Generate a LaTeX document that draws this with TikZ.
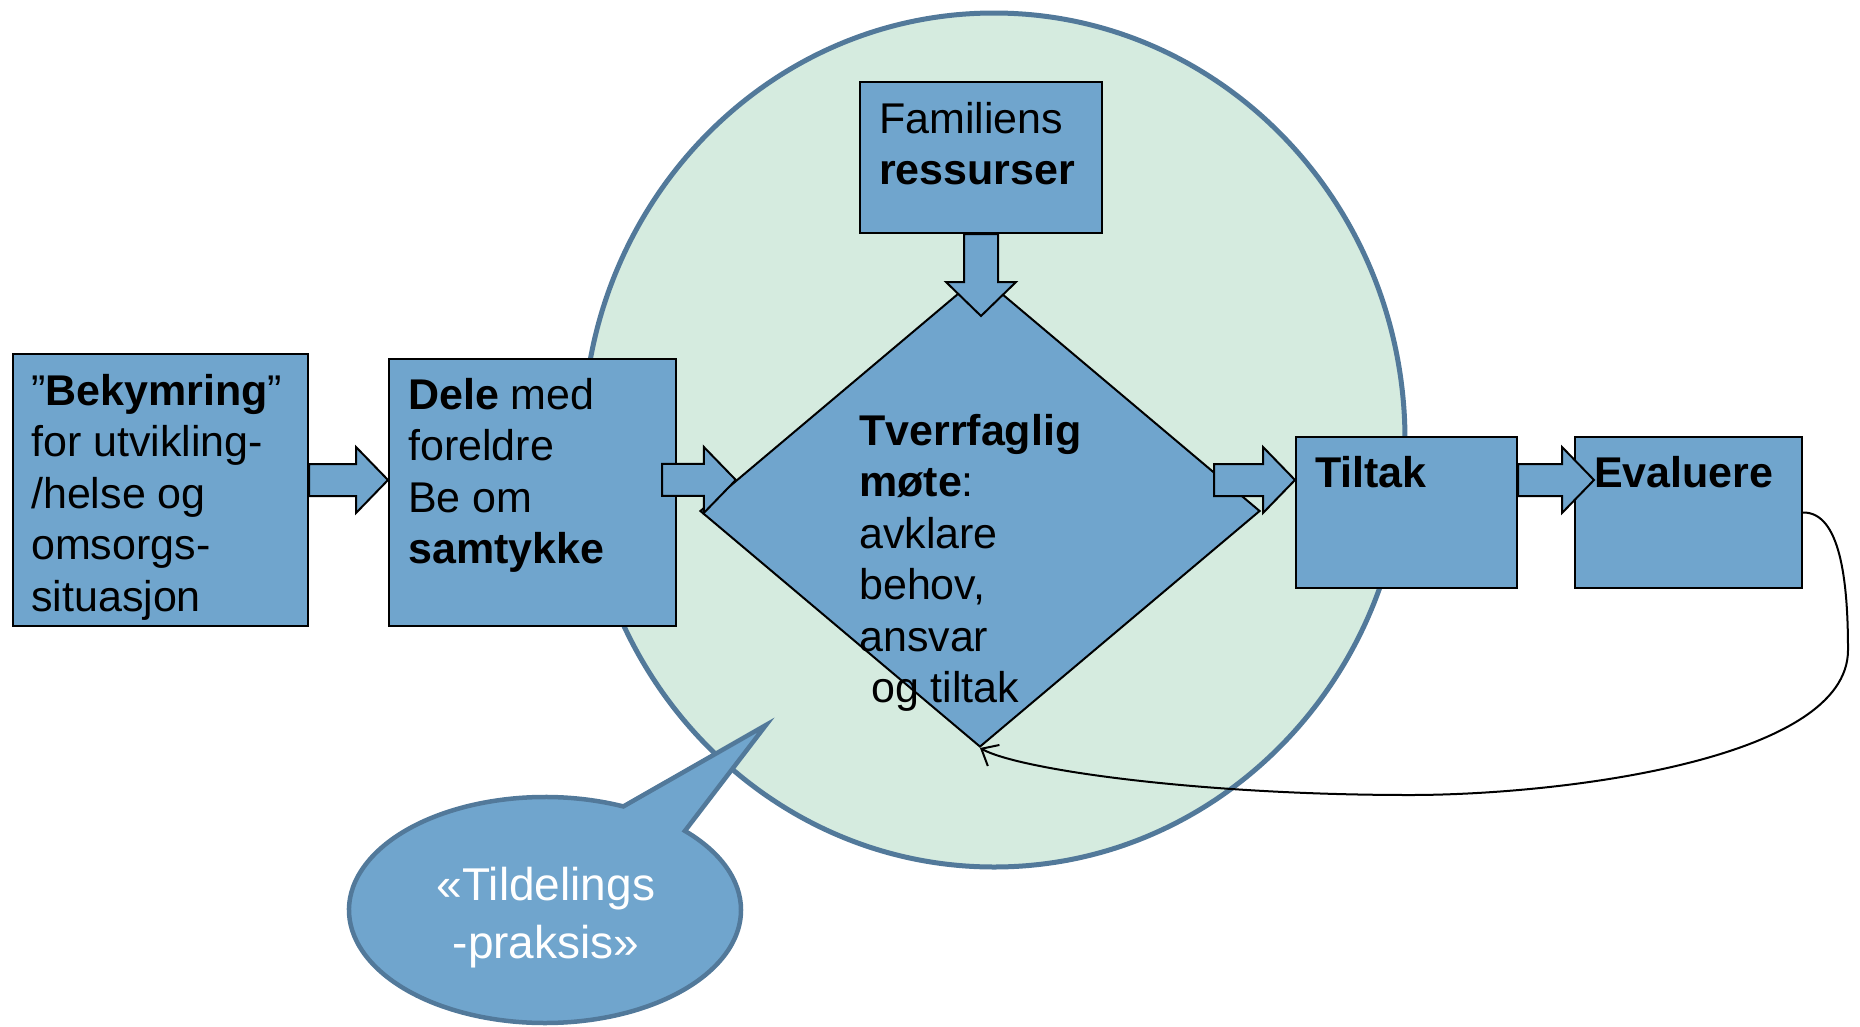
\documentclass[tikz,border=0pt]{standalone}
\usepackage{fontspec}
\setmainfont{Liberation Sans}
\usetikzlibrary{shapes.geometric,shapes.callouts,calc,arrows.meta}
\definecolor{boxblue}{HTML}{70A5CD}
\definecolor{ringfill}{HTML}{D5EBDF}
\definecolor{ringline}{HTML}{52799A}
\tikzset{
  box/.style={rectangle,draw=black,line width=2pt,fill=boxblue,anchor=north west,inner sep=0pt},
  txt/.style={anchor=north west,inner sep=0pt,align=left,font=\fontsize{43}{51.5}\selectfont},
  barrow/.style={draw=black,line width=2pt,fill=boxblue,line join=miter},
}
% block arrow: #1 start of the shaft, #2 tip (shaft is horizontal at the tip's height)
\newcommand{\blockarrow}[2]{%
  \draw[barrow] let \p1=(#1), \p2=(#2) in
    (\x1,\y2+16pt)--(\x2-32pt,\y2+16pt)--(\x2-32pt,\y2+33pt)--(\x2,\y2)
    --(\x2-32pt,\y2-33pt)--(\x2-32pt,\y2-16pt)--(\x1,\y2-16pt)--cycle;}
\begin{document}
\begin{tikzpicture}[x=1pt,y=-1pt]
\useasboundingbox (0,0) rectangle (1860,1026);
\node[ellipse,draw=ringline,line width=5pt,fill=ringfill,inner sep=0pt,
  minimum width=822pt,minimum height=854pt] (ring) at (994,440) {};
\coordinate (arrowline) at (0,480);
\coordinate (pointer) at (766,725);

% boxes
\node[box,minimum width=295pt,minimum height=272pt] (bekymring) at (12,353) {};
\node[txt] (bekymring-t) at ([shift={(19,21)}]bekymring.north west)
  {”\textbf{Bekymring}”\\for utvikling-\\/helse og\\omsorgs-\\situasjon};
\node[box,minimum width=287pt,minimum height=267pt] (dele) at (388,358) {};
\node[txt] (dele-t) at ([shift={(20,20)}]dele.north west)
  {\textbf{Dele} med\\foreldre\\Be om\\\textbf{samtykke}};
\node[box,minimum width=242pt,minimum height=151pt] (familiens) at (859,81) {};
\node[txt] (familiens-t) at ([shift={(20,21)}]familiens.north west)
  {Familiens\\\textbf{ressurser}};
\node[diamond,draw=black,line width=2pt,fill=boxblue,inner sep=0pt,
  minimum width=560pt,minimum height=472pt] (moete) at (980,511) {};
\node[txt] (moete-t) at (859,414)
  {\textbf{Tverrfaglig}\\\textbf{møte}:\\avklare\\behov,\\ansvar\\\hspace*{12pt}og tiltak};
\node[box,minimum width=221pt,minimum height=151pt] (tiltak) at (1295,436) {};
\node[txt] (tiltak-t) at ([shift={(20,20)}]tiltak.north west) {\textbf{Tiltak}};
\node[box,minimum width=227pt,minimum height=151pt] (evaluere) at (1574,436) {};
\node[txt] (evaluere-t) at ([shift={(20,20)}]evaluere.north west) {\textbf{Evaluere}};

% arrows
\blockarrow{bekymring.east}{dele.west |- arrowline}
\blockarrow{$(dele.east)+(-15,0)$}{$(moete.west)!0.131!(moete.north)$}
\blockarrow{$(moete.east)+(-47,0)$}{tiltak.west |- arrowline}
\blockarrow{tiltak.east}{$(evaluere.west |- arrowline)+(20,0)$}
\draw[barrow] let \p1=(familiens.south), \p2=($(moete.north)+(0,42)$) in
  (\x1-17pt,\y1)--(\x1-17pt,\y2+34pt)--(\x1-35pt,\y2+34pt)--(\x1,\y2)
  --(\x1+35pt,\y2+34pt)--(\x1+17pt,\y2+34pt)--(\x1+17pt,\y1)--cycle;

% back to the meeting
\draw[line width=2pt,-{Straight Barb[length=14pt,width=24pt]}] (evaluere.east)
  .. controls (1840,512) and (1848,580) .. (1848,650)
  .. controls (1848,760) and (1560,795) .. (1410,795)
  .. controls (1200,795) and (1020,770) .. (moete.south);

\node[ellipse callout,draw=ringline,line width=4.5pt,fill=boxblue,
  inner sep=0pt,minimum width=392pt,minimum height=226pt,
  callout absolute pointer=(pointer),callout pointer arc=22] (tildeling) at (545,910) {};
\node[text=white,align=center,inner sep=0pt,font=\fontsize{46}{58}\selectfont]
  (tildeling-t) at (546,918) {«Tildelings\\-praksis»};
\end{tikzpicture}
\end{document}
